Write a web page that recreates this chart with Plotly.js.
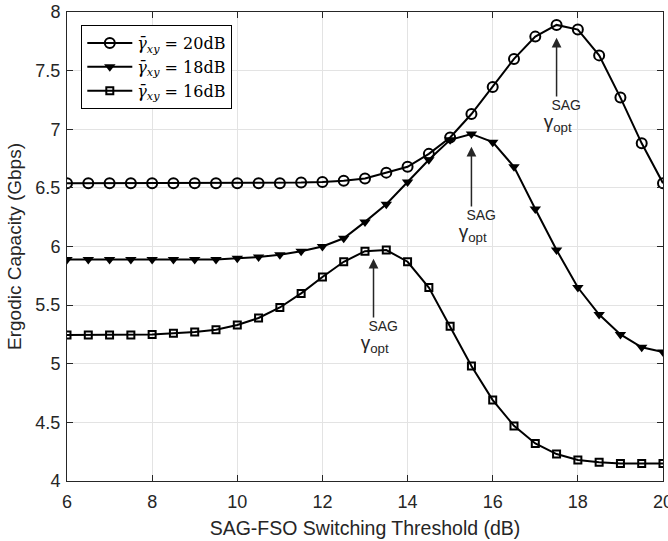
<!DOCTYPE html>
<html>
<head>
<meta charset="utf-8">
<script src="https://cdn.plot.ly/plotly-3.0.1.min.js"></script>
<style>html,body{margin:0;padding:0;background:#fff;}#chart{width:668px;height:541px;}</style>
</head>
<body>
<div id="chart"></div>
<script>
const thresholdDb = [6,6.5,7,7.5,8,8.5,9,9.5,10,10.5,11,11.5,12,12.5,13,13.5,14,14.5,15,15.5,16,16.5,17,17.5,18,18.5,19,19.5,20];
const cap20dB = [6.54,6.54,6.54,6.54,6.54,6.54,6.54,6.54,6.54,6.54,6.54,6.545,6.55,6.56,6.58,6.63,6.68,6.79,6.93,7.13,7.36,7.60,7.79,7.89,7.85,7.63,7.27,6.88,6.54];
const cap18dB = [5.89,5.89,5.89,5.89,5.89,5.89,5.89,5.89,5.90,5.91,5.93,5.96,6.00,6.07,6.21,6.36,6.55,6.74,6.91,6.96,6.89,6.68,6.32,5.97,5.65,5.42,5.25,5.14,5.10];
const cap16dB = [5.245,5.245,5.245,5.245,5.25,5.26,5.27,5.29,5.33,5.39,5.48,5.60,5.74,5.87,5.96,5.97,5.87,5.65,5.32,4.98,4.69,4.47,4.32,4.23,4.18,4.16,4.15,4.15,4.15];
const gammaBar = '<i>γ̄</i><sub><i>xy</i></sub>';
const seriesNames = [gammaBar + ' = 20dB', gammaBar + ' = 18dB', gammaBar + ' = 16dB'];
const optX = [17.5, 15.5, 13.2];
const optY = [7.78, 6.85, 5.895];
const labelY = [7.113, 6.175, 5.228];
const optLabel = '&nbsp;&nbsp;&nbsp;&nbsp;&nbsp;SAG<br>&nbsp;&nbsp;&nbsp;<span style="font-size:19px">γ<sub>opt</sub></span>';

const axisColor = '#262626';
const baseFont = 'Liberation Sans, Arial, sans-serif';
const traces = [
  {x: thresholdDb, y: cap20dB, name: seriesNames[0], mode: 'lines+markers',
   line: {color: '#000', width: 2},
   marker: {symbol: 'circle-open', size: 10, color: '#000', line: {width: 2, color: '#000'}}},
  {x: thresholdDb, y: cap18dB, name: seriesNames[1], mode: 'lines+markers',
   line: {color: '#000', width: 2},
   marker: {symbol: 'triangle-down', size: 10, color: '#000', line: {width: 0}}},
  {x: thresholdDb, y: cap16dB, name: seriesNames[2], mode: 'lines+markers',
   line: {color: '#000', width: 2},
   marker: {symbol: 'square-open', size: 7, color: '#000', line: {width: 2, color: '#000'}}}
];

const annotations = [];
for (let i = 0; i < optX.length; i++) {
  annotations.push({x: optX[i], y: optY[i], ax: optX[i], ay: labelY[i], axref: 'x', ayref: 'y', xref: 'x', yref: 'y',
    text: optLabel, align: 'left', showarrow: true, arrowhead: 2, arrowsize: 1.3, arrowwidth: 1.5, arrowcolor: axisColor,
    borderpad: 0, font: {family: baseFont, size: 14, color: axisColor}});
}

const layout = {
  width: 668, height: 541,
  margin: {l: 67, r: 5, t: 12, b: 60},
  paper_bgcolor: '#fff', plot_bgcolor: '#fff',
  font: {family: baseFont, size: 18, color: axisColor},
  showlegend: true,
  legend: {x: 0.024, y: 0.972, xanchor: 'left', yanchor: 'top', bgcolor: '#fff', bordercolor: '#000', borderwidth: 1,
    font: {family: 'DejaVu Serif, Liberation Serif, serif', size: 16, color: '#000'}, tracegroupgap: 0, itemwidth: 45},
  xaxis: {range: [6, 20], tick0: 6, dtick: 2, showgrid: true, gridcolor: '#e3e3e3', gridwidth: 1,
    zeroline: false, showline: true, linecolor: axisColor, linewidth: 1, mirror: 'ticks',
    ticks: 'inside', ticklen: 6, tickcolor: axisColor, tickfont: {size: 18, color: axisColor},
    ticklabeloverflow: 'allow', ticklabelstandoff: 4,
    title: {text: 'SAG-FSO Switching Threshold (dB)', font: {size: 19.5, color: axisColor}, standoff: 10}},
  yaxis: {range: [4, 8], tick0: 4, dtick: 0.5, showgrid: true, gridcolor: '#e3e3e3', gridwidth: 1,
    zeroline: false, showline: true, linecolor: axisColor, linewidth: 1, mirror: 'ticks',
    ticks: 'inside', ticklen: 6, tickcolor: axisColor, tickfont: {size: 18, color: axisColor},
    ticklabelstandoff: 2,
    title: {text: 'Ergodic Capacity (Gbps)', font: {size: 19, color: axisColor}, standoff: 8}},
  annotations: annotations
};

Plotly.newPlot('chart', traces, layout, {displayModeBar: false, staticPlot: true});
</script>
</body>
</html>
